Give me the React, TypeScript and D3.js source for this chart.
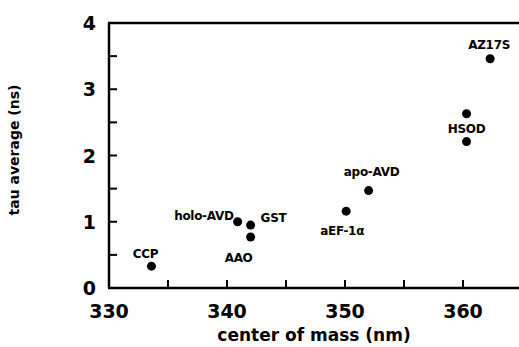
import React, { useEffect, useRef } from 'react';
import * as d3 from 'd3';

// protein samples: emission center of mass (nm) vs average lifetime (ns)
const proteins = ['CCP', 'holo-AVD', 'GST', 'AAO', 'aEF-1α', 'apo-AVD', 'HSOD', 'HSOD', 'AZ17S'];
const centerOfMass = [333.6, 340.9, 342.0, 342.0, 350.1, 352.0, 360.3, 360.3, 362.3];
const tauAverage = [0.33, 1.0, 0.95, 0.77, 1.16, 1.47, 2.63, 2.21, 3.46];
// label offsets from the dot, in px (dx, dy, anchor); 'none' = no label
const labelDx = [-6, -4, 10, -12, -4, 3, 0, 0, -1];
const labelDy = [-8, -2, -3, 25, 24, -15, 19, 0, -10];
const labelAnchor = ['middle', 'end', 'start', 'middle', 'middle', 'middle', 'middle', 'none', 'middle'];

const xTicks = [330, 340, 350, 360];
const xMinor = [335, 345, 355];
const yTicks = [0, 1, 2, 3, 4];
const yMinor = [0.5, 1.5, 2.5, 3.5];

const W = 519;
const H = 347;

const App: React.FC = () => {
  const svgRef = useRef<SVGSVGElement>(null);

  useEffect(() => {
    if (!svgRef.current) return;
    document.body.style.margin = '0';
    const svg = d3.select(svgRef.current);
    svg.selectAll('*').remove();

    const x = d3.scaleLinear().domain([330, 365]).range([109, 522]);
    const y = d3.scaleLinear().domain([0, 4]).range([288, 23]);
    const font = '"DejaVu Sans", Verdana, sans-serif';

    const g = svg.append('g');

    // frame: left, bottom, top lines
    g.append('line')
      .attr('x1', x(330)).attr('x2', x(330))
      .attr('y1', y(4)).attr('y2', y(0))
      .attr('stroke', '#000').attr('stroke-width', 2.5);
    g.append('line')
      .attr('x1', x(330) - 1).attr('x2', W)
      .attr('y1', y(0)).attr('y2', y(0))
      .attr('stroke', '#000').attr('stroke-width', 2.5);
    g.append('line')
      .attr('x1', x(330) - 1).attr('x2', W)
      .attr('y1', y(4)).attr('y2', y(4))
      .attr('stroke', '#000').attr('stroke-width', 2.5);

    // inward ticks
    g.selectAll('.xt')
      .data([...xTicks.slice(1), ...xMinor])
      .enter()
      .append('line')
      .attr('x1', d => x(d)).attr('x2', d => x(d))
      .attr('y1', y(0)).attr('y2', y(0) - 8)
      .attr('stroke', '#000').attr('stroke-width', 2);
    g.selectAll('.yt')
      .data([...yTicks.slice(1, 4), ...yMinor])
      .enter()
      .append('line')
      .attr('x1', x(330)).attr('x2', x(330) + 8)
      .attr('y1', d => y(d)).attr('y2', d => y(d))
      .attr('stroke', '#000').attr('stroke-width', 2);

    // tick labels
    g.selectAll('.xl')
      .data(xTicks)
      .enter()
      .append('text')
      .attr('x', d => x(d))
      .attr('y', 318)
      .attr('text-anchor', 'middle')
      .style('font-family', font)
      .style('font-size', '19px')
      .style('font-weight', 'bold')
      .text(d => d);
    g.selectAll('.yl')
      .data(yTicks)
      .enter()
      .append('text')
      .attr('x', 96)
      .attr('y', d => y(d) + 7)
      .attr('text-anchor', 'end')
      .style('font-family', font)
      .style('font-size', '19px')
      .style('font-weight', 'bold')
      .text(d => d);

    // axis titles
    svg.append('text')
      .attr('x', 314)
      .attr('y', 341)
      .attr('text-anchor', 'middle')
      .style('font-family', font)
      .style('font-size', '17px')
      .style('font-weight', 'bold')
      .text('center of mass (nm)');
    svg.append('text')
      .attr('transform', 'translate(19,150) rotate(-90)')
      .attr('text-anchor', 'middle')
      .style('font-family', font)
      .style('font-size', '14px')
      .style('font-weight', 'bold')
      .text('tau average (ns)');

    // dots
    g.selectAll('.dot')
      .data(proteins.map((p, i) => i))
      .enter()
      .append('circle')
      .attr('cx', i => x(centerOfMass[i]))
      .attr('cy', i => y(tauAverage[i]))
      .attr('r', 4.5)
      .attr('fill', '#000');

    // point labels
    g.selectAll('.lbl')
      .data(proteins.map((p, i) => i).filter(i => labelAnchor[i] !== 'none'))
      .enter()
      .append('text')
      .attr('x', i => x(centerOfMass[i]) + labelDx[i])
      .attr('y', i => y(tauAverage[i]) + labelDy[i])
      .attr('text-anchor', i => labelAnchor[i])
      .style('font-family', font)
      .style('font-size', '12px')
      .style('font-weight', 'bold')
      .style('letter-spacing', '-0.3px')
      .text(i => proteins[i]);
  }, []);

  return (
    <svg
      ref={svgRef}
      width={W}
      height={H}
      style={{ position: 'absolute', left: 0, top: 0, background: '#fff' }}
    />
  );
};

export default App;
